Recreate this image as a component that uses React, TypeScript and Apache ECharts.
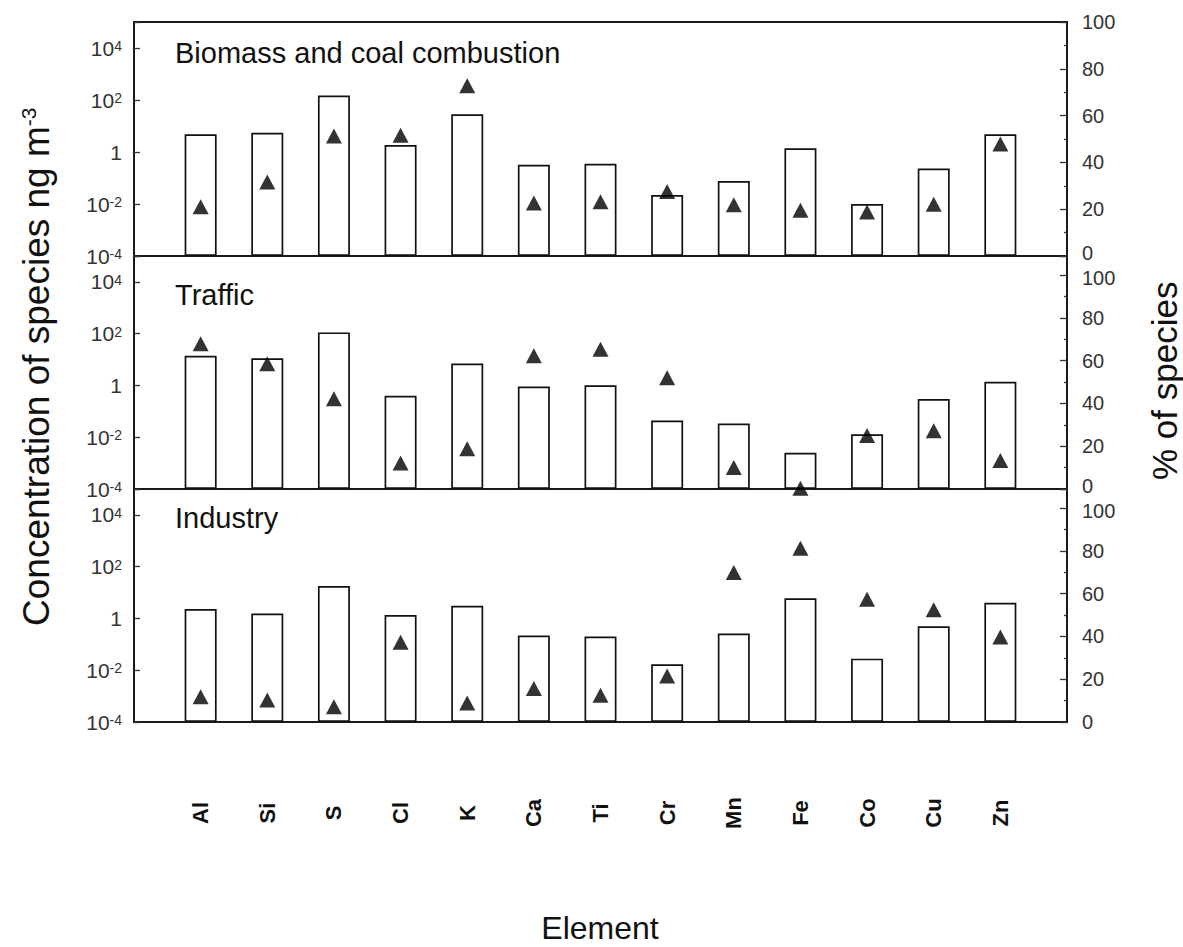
import React, { useEffect, useRef } from 'react';
import * as echarts from 'echarts';

const elements = ['Al', 'Si', 'S', 'Cl', 'K', 'Ca', 'Ti', 'Cr', 'Mn', 'Fe', 'Co', 'Cu', 'Zn'];
const panelTitles = ['Biomass and coal combustion', 'Traffic', 'Industry'];

// concentration (ng m-3), left log axis
const biomassConc = [4.8, 5.5, 148, 1.86, 28, 0.32, 0.35, 0.022, 0.076, 1.38, 0.01, 0.23, 4.8];
const trafficConc = [14, 11.3, 112, 0.4, 7.0, 0.91, 1.02, 0.044, 0.034, 0.0025, 0.013, 0.3, 1.38];
const industryConc = [2.3, 1.55, 18, 1.35, 3.1, 0.22, 0.2, 0.017, 0.26, 6.0, 0.028, 0.5, 4.0];

// % of species, right axis
const biomassPct = [21, 31.6, 51.3, 51.6, 72.8, 22.6, 23.2, 27.6, 21.9, 19.5, 18.8, 22.1, 47.9];
const trafficPct = [68, 58.6, 42.2, 12.2, 18.8, 62.3, 65.4, 52, 10.1, 0.3, 25, 27.3, 13.3];
const industryPct = [11.8, 10.3, 7.1, 37.3, 8.9, 15.7, 12.5, 21.5, 69.9, 81.3, 57.4, 52.5, 39.8];

const logMinExp = -4;
const logMaxExp = 5;
const pctMax = [100, 109, 109];

const concSets = [biomassConc, trafficConc, industryConc];
const pctSets = [biomassPct, trafficPct, industryPct];

const FONT = '"Liberation Sans", Arial, sans-serif';

export default function App() {
  const ref = useRef<HTMLDivElement>(null);

  useEffect(() => {
    if (!ref.current) return;
    const chart = echarts.init(ref.current, undefined, { renderer: 'svg' });

    const left = 134;
    const width = 933;
    const tops = [22, 256, 489];
    const heights = [234, 233, 233];
    const cats = ['', ...elements, ''];

    const grid = tops.map((t, i) => ({
      left,
      width,
      top: t,
      height: heights[i],
      show: true,
      borderColor: '#1a1a1a',
      borderWidth: 2,
      backgroundColor: 'transparent',
    }));

    const xAxis = tops.map((_, i) => ({
      type: 'category',
      gridIndex: i,
      data: cats,
      boundaryGap: false,
      axisLine: { show: false },
      axisTick: { show: false },
      axisLabel: {
        show: i === 2,
        interval: 0,
        rotate: 90,
        align: 'center',
        verticalAlign: 'middle',
        margin: 91,
        fontFamily: FONT,
        fontSize: 22,
        fontWeight: 'bold',
        color: '#111',
      },
      splitLine: { show: false },
    }));

    const pctLabelStyle = { fontSize: 20, fontFamily: FONT, color: '#333' };

    const yAxis: any[] = [];
    tops.forEach((_, i) => {
      yAxis.push({
        type: 'value',
        gridIndex: i,
        position: 'left',
        min: 0,
        max: logMaxExp - logMinExp,
        interval: 2,
        axisLine: { show: false },
        axisTick: { show: true, inside: true, length: 6, lineStyle: { color: '#333', width: 1.3 } },
        splitLine: { show: false },
        axisLabel: {
          margin: 12,
          fontFamily: FONT,
          fontSize: 21,
          lineHeight: 18,
          color: '#333',
          formatter: (v: number) => {
            if (v % 2 !== 0) return '';
            const e = v + logMinExp;
            if (e === 0) return '1';
            return '10{sup|' + e + '}';
          },
          rich: {
            sup: { fontSize: 14, lineHeight: 18, verticalAlign: 'top', fontFamily: FONT, color: '#333' },
          },
        },
      });
      yAxis.push({
        type: 'value',
        gridIndex: i,
        position: 'right',
        min: 0,
        max: pctMax[i],
        interval: 20,
        axisLine: { show: false },
        axisTick: { show: true, inside: true, length: 7, lineStyle: { color: '#333', width: 1.3 } },
        minorTick: { show: true, splitNumber: 2, length: 3, lineStyle: { color: '#333', width: 1.3 } },
        splitLine: { show: false },
        minorSplitLine: { show: false },
        axisLabel: {
          margin: 15,
          ...pctLabelStyle,
          formatter: (v: number) => {
            if (v % 20 !== 0 || v > 100) return '';
            if (v === 0 && i < 2) return '{lo|0}';
            if (v === 100 && i > 0) return '{hi|100}';
            return String(v);
          },
          rich: {
            lo: { ...pctLabelStyle, padding: [0, 0, 6, 0] },
            hi: { ...pctLabelStyle, padding: [6, 0, 0, 0] },
          },
        },
      });
    });

    const series: any[] = [];
    tops.forEach((_, i) => {
      series.push({
        type: 'bar',
        xAxisIndex: i,
        yAxisIndex: 2 * i,
        barWidth: 32,
        data: concSets[i].map((v, k) => [k + 1, Math.log10(v) - logMinExp]),
        itemStyle: { color: '#fff', borderColor: '#111', borderWidth: 1.7 },
        z: 2,
      });
      series.push({
        type: 'scatter',
        xAxisIndex: i,
        yAxisIndex: 2 * i + 1,
        symbol: 'triangle',
        symbolSize: [16, 15],
        data: pctSets[i].map((v, k) => [k + 1, v]),
        itemStyle: { color: '#000' },
        clip: false,
        z: 5,
      });
    });

    const titleYs = [53, 295, 518];
    const graphic: any[] = panelTitles.map((t, i) => ({
      type: 'text',
      x: 175,
      y: titleYs[i],
      style: {
        text: t,
        fontFamily: FONT,
        fontSize: 29,
        fill: '#111',
        textVerticalAlign: 'middle',
        textAlign: 'left',
      },
      z: 10,
    }));

    graphic.push({
      type: 'text',
      x: 36,
      y: 626,
      rotation: Math.PI / 2,
      style: {
        text: 'Concentration of species ng m{sup|-3}',
        fontFamily: FONT,
        fontSize: 37,
        fill: '#111',
        textAlign: 'left',
        textVerticalAlign: 'middle',
        rich: {
          sup: { fontSize: 21, verticalAlign: 'top', fontFamily: FONT, fill: '#111' },
        },
      },
    });
    graphic.push({
      type: 'text',
      x: 1164,
      y: 480,
      rotation: Math.PI / 2,
      style: {
        text: '% of species',
        fontFamily: FONT,
        fontSize: 35,
        fill: '#111',
        textAlign: 'left',
        textVerticalAlign: 'middle',
      },
    });
    graphic.push({
      type: 'text',
      x: 600,
      y: 928,
      style: {
        text: 'Element',
        fontFamily: FONT,
        fontSize: 32,
        fill: '#111',
        textAlign: 'center',
        textVerticalAlign: 'middle',
      },
    });

    chart.setOption({
      animation: false,
      backgroundColor: '#fff',
      grid,
      xAxis,
      yAxis,
      series,
      graphic,
    });

    return () => chart.dispose();
  }, []);

  return (
    <div
      ref={ref}
      style={{ position: 'absolute', left: 0, top: 0, width: 1183, height: 947, background: '#fff' }}
    />
  );
}
